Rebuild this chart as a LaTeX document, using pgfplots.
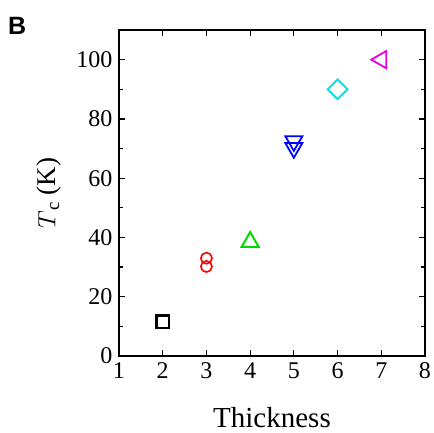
\documentclass[border=0pt]{standalone}
\usepackage{fontspec}
\setmainfont{Liberation Serif}
\newfontfamily\panelfont{Liberation Sans}
\usepackage{pgfplots}
\pgfplotsset{compat=1.18}

\definecolor{tcgreen}{RGB}{0,220,0}
\definecolor{tccyan}{RGB}{0,230,230}
\definecolor{tcmag}{RGB}{230,0,230}

\begin{document}
\begin{tikzpicture}[x=1pt,y=1pt]
\useasboundingbox (-119,-77) rectangle (314,356);
\begin{axis}[
  at={(0,0)}, anchor=south west,
  scale only axis, width=306pt, height=326pt,
  xmin=1, xmax=8, ymin=0, ymax=110,
  xtick={1,...,8}, ytick={0,20,...,100},
  minor y tick num=1,
  tick align=inside,
  major tick length=6pt, minor tick length=4pt,
  axis line style={line width=1.6pt},
  every tick/.style={line width=1.2pt, black},
  /pgf/number format/assume math mode=true,
  ticklabel style={font=\fontsize{24}{28}\selectfont},
  xticklabel style={yshift=-3pt},
  yticklabel style={xshift=-3pt},
  xlabel={Thickness},
  ylabel={$T_{\,\mathrm{c}}$ (K)},
  label style={font=\fontsize{29}{33}\selectfont},
  xlabel style={at={(axis description cs:0.5,-0.19)}, anchor=center},
  ylabel style={at={(axis description cs:-0.229,0.5)}, anchor=center, font=\fontsize{27}{32}\selectfont},
  clip=false,
]
\addplot[only marks, black, mark=square, mark size=6.2pt,
  mark options={solid, line width=2.2pt}] coordinates {(2,11.6)};
\addplot[only marks, red, mark=o, mark size=5.6pt,
  mark options={solid, line width=1.6pt}] coordinates {(3,33) (3,30.2)};
\addplot[only marks, tcgreen, mark=triangle, mark size=9.8pt,
  mark options={solid, line width=2pt}] coordinates {(4,38.5)};
\addplot[only marks, blue, mark=triangle, mark size=9.8pt,
  mark options={solid, rotate=180, line width=1.8pt}] coordinates {(5,72.5) (5,70.2)};
\addplot[only marks, tccyan, mark=square, mark size=7pt,
  mark options={solid, rotate=45, line width=2pt}] coordinates {(6,90)};
\addplot[only marks, tcmag, mark=triangle, mark size=10pt,
  mark options={solid, rotate=90, line width=1.8pt}] coordinates {(7,100)};
\end{axis}
\node[anchor=west, inner sep=0pt, font=\panelfont\bfseries\fontsize{25}{28}\selectfont] at (-111,330) {B};
\end{tikzpicture}
\end{document}
